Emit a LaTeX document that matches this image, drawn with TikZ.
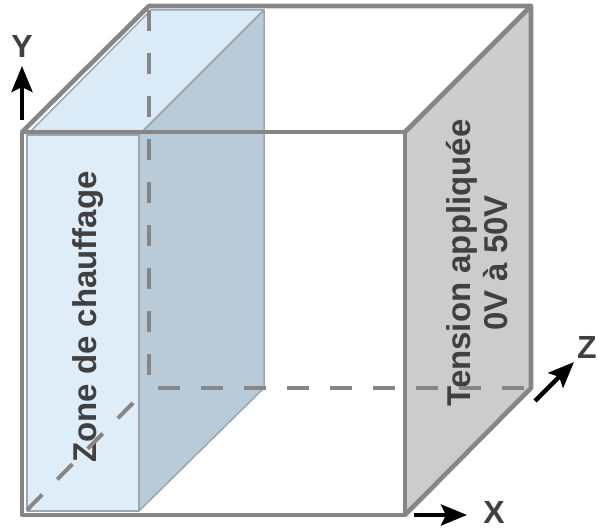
\documentclass[tikz,border=0pt]{standalone}
\usepackage{fontspec}
\setmainfont{Liberation Sans}
\usetikzlibrary{arrows.meta}
\definecolor{edgegray}{HTML}{868686}
\definecolor{zonefront}{HTML}{DFEDF8}
\definecolor{zonetop}{HTML}{DAEAF7}
\definecolor{zoneside}{HTML}{B9CAD8}
\definecolor{zoneedge}{HTML}{9DA6AE}
\definecolor{plategray}{HTML}{CCCCCC}
\definecolor{labelgray}{HTML}{404040}
\tikzset{
    edge/.style = {draw=edgegray, line width=4.6pt, line join=round},
    hidden/.style = {draw=edgegray, line width=4pt, dash pattern=on 21.5pt off 21.5pt},
    zoneface/.style = {draw=zoneedge, line width=1.5pt, line join=round},
    arrow/.style = {black, line width=4.4pt, -{Stealth[length=26pt,width=21pt,inset=5pt]}},
    axislabel/.style = {font=\fontsize{32}{32}\selectfont\bfseries, text=labelgray, inner sep=0pt},
    facelabel/.style = {font=\fontsize{33}{37}\selectfont\bfseries, text=labelgray, inner sep=0pt, rotate=90, align=center}
}

\begin{document}
\begin{tikzpicture}[x=1pt, y=-1pt]

\useasboundingbox (0,0) rectangle (598,529);

% cube corners
\coordinate (ftl) at (22,132);
\coordinate (ftr) at (405,132);
\coordinate (fbl) at (22,515);
\coordinate (fbr) at (405,515);
\coordinate (btl) at (149,6);
\coordinate (btr) at (531,6);
\coordinate (bbl) at (149,388);
\coordinate (bbr) at (531,388);

% heating zone corners
\coordinate (ztl) at (27,135);
\coordinate (ztr) at (139,135);
\coordinate (zbr) at (139,511);
\coordinate (zbtl) at (151,10);
\coordinate (zbtr) at (264,10);
\coordinate (zbbr) at (264,388);

% hidden edge ends
\coordinate (vstart) at (149,10);
\coordinate (hstart) at (158,388);
\coordinate (dstart) at (133,403);

% faces
\fill [plategray] (ftr) -- (btr) -- (bbr) -- (fbr) -- cycle;
\draw [zoneface, fill=zonetop] (ztl) -- (zbtl) -- (zbtr) -- (ztr) -- cycle;
\draw [zoneface, fill=zonefront] (ztl) rectangle (zbr);
\draw [zoneface, fill=zoneside] (ztr) -- (zbtr) -- (zbbr) -- (zbr) -- cycle;

% text
\node (zone) [facelabel] at (88,317) {Zone de chauffage};
\node (tension) [facelabel] at (477,263) {Tension appliquée\\0V à 50V};

% hidden edges
\draw [hidden] (vstart) -- (bbl);
\draw [hidden] (hstart) -- (bbr);
\draw [hidden] (dstart) -- (fbl);

% visible edges
\draw [edge] (ftl) rectangle (fbr);
\draw [edge] (ftl) -- (btl) -- (btr) -- (bbr) -- (fbr);
\draw [edge] (ftr) -- (btr);

% axes
\coordinate (ya) at (22,120);
\coordinate (yb) at (22,66);
\coordinate (xa) at (414,515);
\coordinate (xb) at (467,515);
\coordinate (za) at (535,401);
\coordinate (zb) at (574,362);
\draw [arrow] (ya) -- (yb);
\draw [arrow] (xa) -- (xb);
\draw [arrow] (za) -- (zb);
\node (ylabel) [axislabel] at (22,46) {Y};
\node (xlabel) [axislabel] at (494,512) {X};
\node (zlabel) [axislabel] at (587,347) {Z};

\end{tikzpicture}
\end{document}
